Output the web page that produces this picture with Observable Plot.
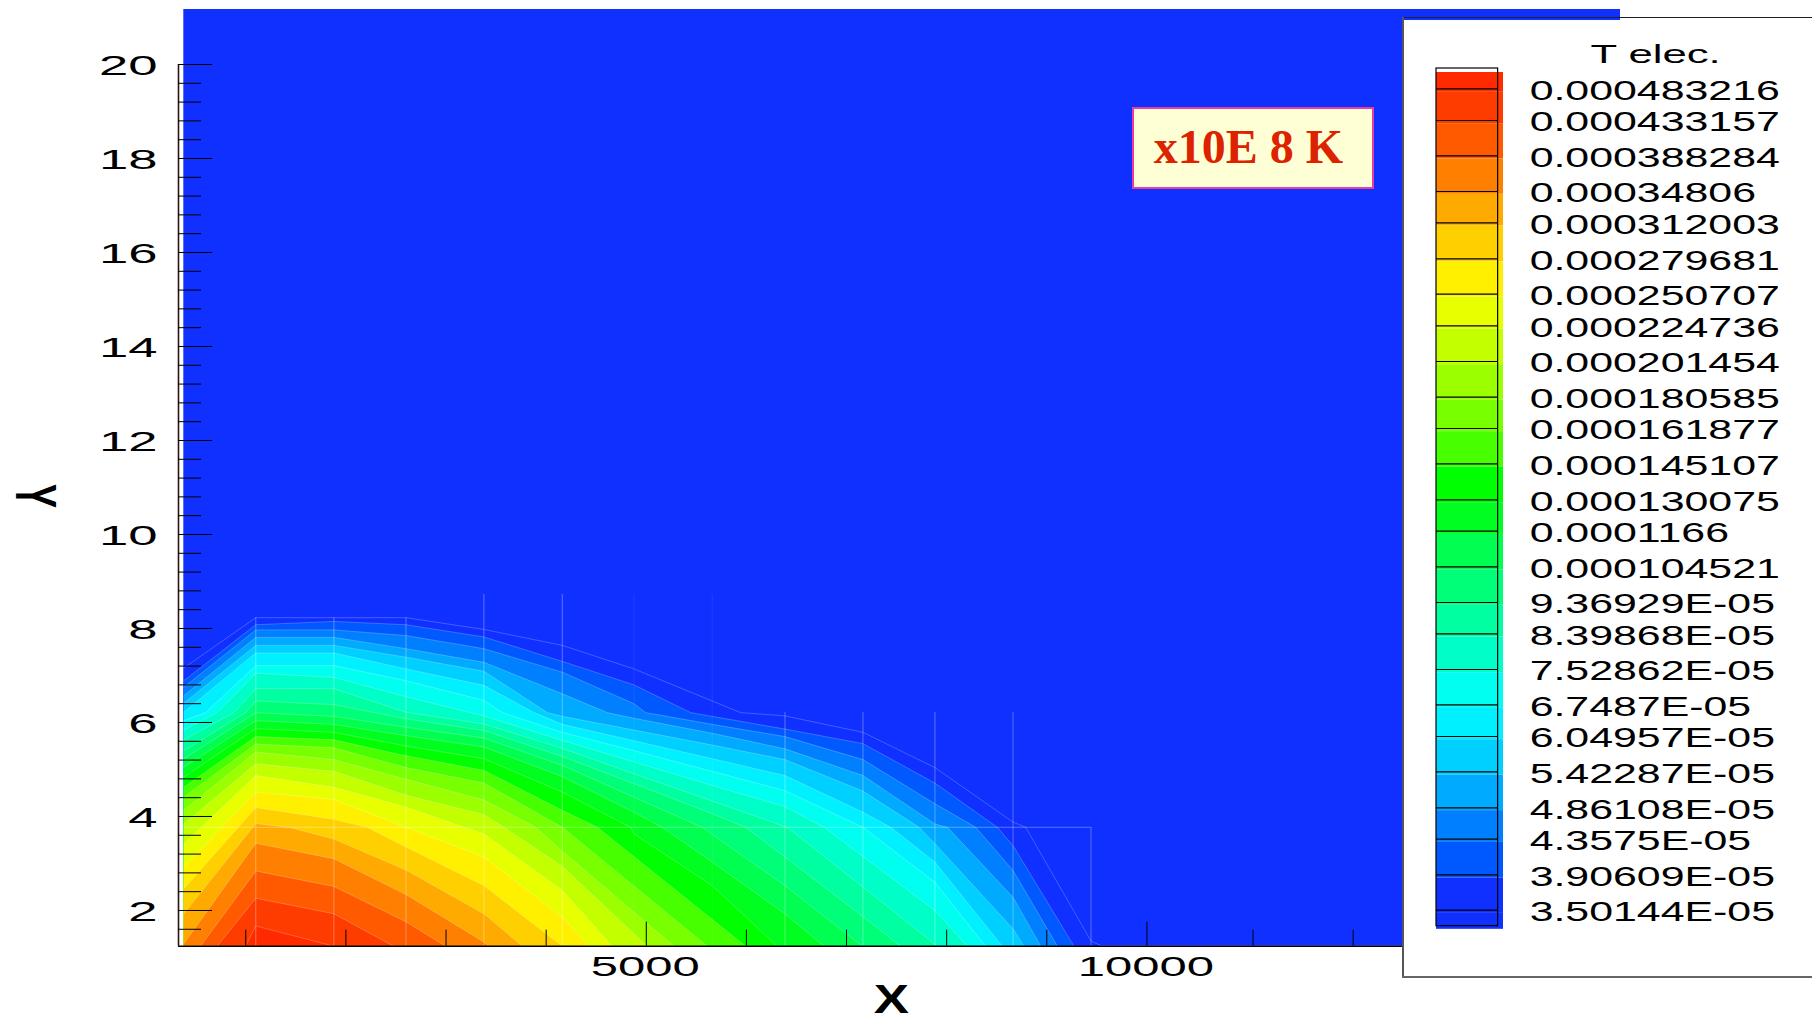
<!DOCTYPE html>
<html>
<head>
<meta charset="utf-8">
<script src="https://cdn.jsdelivr.net/npm/d3@7"></script>
<script src="https://cdn.jsdelivr.net/npm/@observablehq/plot@0.6"></script>
<style>
html,body{margin:0;padding:0;background:#fff;}
#stage{position:relative;width:1812px;height:1022px;overflow:hidden;font-family:"Liberation Sans",sans-serif;}
#stage>svg,#stage>figure{position:absolute;left:0;top:0;margin:0;}
#panel{position:absolute;left:1403px;top:20px;width:409px;height:957px;background:#fff;}
#panel svg{position:absolute;left:0;top:-3px;}
#panelTop{position:absolute;left:1402px;top:17px;width:410px;height:1px;background:#222;}
#panelLeft{position:absolute;left:1402px;top:17px;width:2px;height:960px;background:#555;}
#panelBottom{position:absolute;left:1402px;top:976px;width:410px;height:2px;background:#666;}
#note{position:absolute;left:1132px;top:107px;width:238px;height:78px;background:#ffffd6;border:2px solid #e83ca0;
 font:bold 48px "Liberation Serif",serif;color:#dd2200;text-align:center;line-height:76px;white-space:pre;text-indent:-9px;}
.axisTitle{position:absolute;font:bold 40px "Liberation Sans",sans-serif;color:#000;line-height:40px;transform-origin:center;}
#xTitle{left:878px;top:979px;transform:scaleX(1.32);}
#yTitle{left:23px;top:476px;transform:rotate(90deg) scaleX(.9) scaleY(1.42);}
</style>
</head>
<body>
<div id="stage"></div>
<script>
// contour levels, innermost (L1) to outermost (L25): [x, y] vertices
const L1=[[997,1.24],[1100,1.67],[1880,1.24]];
const L2=[[714,1.24],[1100,2.26],[1880,1.93],[2479,1.24]];
const L3=[[548,1.24],[1100,2.84],[1880,2.51],[2600,1.76],[2995,1.24]];
const L4=[[381,1.29],[1100,3.43],[1880,3.10],[2600,2.34],[3378,1.33],[3428,1.24]];
const L5=[[381,1.93],[1100,3.85],[1447,3.76],[1880,3.52],[2600,2.86],[3378,1.93],[3761,1.24]];
const L6=[[381,2.46],[1100,4.19],[1880,3.94],[2213,3.77],[2600,3.35],[3378,2.53],[4161,1.24]];
const L7=[[381,2.92],[1100,4.52],[1880,4.36],[2600,3.77],[3378,3.14],[4161,1.86],[4427,1.24]];
const L8=[[381,3.42],[1100,4.87],[1880,4.62],[2600,4.20],[3178,3.77],[3378,3.63],[4161,2.43],[4660,1.24]];
const L9=[[381,3.84],[1100,5.12],[1880,4.96],[2600,4.45],[3378,4.04],[3578,3.77],[4161,2.94],[5010,1.24]];
const L10=[[381,4.13],[1100,5.37],[1880,5.21],[2600,4.79],[3378,4.35],[3894,3.77],[4161,3.26],[5276,1.24]];
const L11=[[381,4.41],[1100,5.54],[1880,5.46],[2600,5.04],[3378,4.71],[4161,3.77],[5609,1.24]];
const L12=[[381,4.62],[1100,5.70],[1880,5.63],[2600,5.29],[3378,4.98],[4161,4.13],[4510,3.77],[5992,1.24]];
const L13=[[381,4.84],[1100,5.87],[1880,5.79],[2600,5.50],[3378,5.23],[4161,4.52],[4843,3.77],[4877,3.63],[5659,2.53],[6308,1.24]];
const L14=[[381,5.05],[1100,6.04],[1880,5.96],[2600,5.72],[3378,5.48],[4161,4.85],[4877,4.09],[5160,3.77],[5659,3.03],[6385,1.93],[6775,1.24]];
const L15=[[381,5.23],[1100,6.21],[1880,6.13],[2600,5.90],[3378,5.67],[4161,5.09],[4877,4.41],[5559,3.77],[6385,2.53],[7158,1.24]];
const L16=[[381,5.40],[997,6.21],[1100,6.46],[1880,6.38],[2600,6.08],[3378,5.83],[4161,5.28],[4877,4.70],[5659,4.06],[5992,3.77],[6385,3.14],[7164,1.87],[7540,1.24]];
const L17=[[381,5.63],[880,6.21],[1100,6.72],[1880,6.72],[2600,6.22],[3378,5.97],[4161,5.45],[4877,4.91],[5659,4.33],[6408,3.77],[7164,2.50],[7907,1.24]];
const L18=[[381,5.84],[714,6.21],[1100,7.05],[1880,6.96],[2600,6.55],[3378,6.14],[4161,5.62],[4877,5.16],[5659,4.66],[6385,4.21],[6775,3.77],[7164,3.15],[7883,2.00],[8207,1.24]];
const L19=[[381,6.04],[597,6.21],[1100,7.21],[1880,7.21],[2600,6.89],[3378,6.47],[3561,6.21],[4161,5.79],[4877,5.40],[5659,4.96],[6385,4.55],[7164,3.77],[7883,2.60],[8390,1.24]];
const L20=[[381,6.22],[1100,7.48],[1880,7.48],[2600,7.14],[3378,6.79],[3878,6.21],[4161,5.96],[4877,5.61],[5659,5.23],[6385,4.87],[7164,4.09],[7441,3.77],[7883,3.03],[8556,1.24]];
const L21=[[381,6.41],[1100,7.64],[1880,7.64],[2600,7.39],[3378,7.09],[4011,6.21],[4161,6.13],[4877,5.84],[5659,5.52],[6385,5.21],[7164,4.54],[7724,3.77],[7883,3.42],[8663,1.61],[8773,1.24]];
const L22=[[381,6.57],[1100,7.81],[1880,7.81],[2600,7.57],[3378,7.28],[4161,6.61],[4610,6.21],[4877,6.09],[5659,5.77],[6385,5.44],[7164,4.87],[7883,3.84],[8007,3.77],[8663,2.28],[8939,1.24]];
const L23=[[381,6.75],[1100,7.97],[1880,7.97],[2600,7.85],[3378,7.57],[4161,7.07],[4877,6.40],[4993,6.21],[5659,5.96],[6385,5.70],[7164,5.21],[7883,4.27],[8290,3.77],[8663,2.85],[9106,1.24]];
const L24=[[381,6.89],[1100,8.08],[1880,8.15],[2600,8.08],[3378,7.82],[4161,7.30],[4877,6.80],[5443,6.21],[6385,5.86],[7164,5.55],[7883,4.71],[8506,3.77],[8663,3.38],[9272,1.24]];
const L25=[[381,7.16],[1100,8.23],[1880,8.23],[2600,8.23],[3378,7.98],[4161,7.64],[4877,7.14],[5942,6.21],[6385,6.14],[7164,5.79],[7883,5.04],[8663,3.88],[8789,3.77],[9442,1.35],[9555,1.24]];

// band colours, hottest first; bandColors[k] fills the inside of L(k+1), the last one is the background
const bandColors=["#ff2a00","#ff3c00","#ff5a00","#ff8000","#ffaa00","#ffd000","#fff000","#e8ff00","#c4ff00","#9cff00","#78ff00","#48ff00","#00ff00","#00ff20","#00ff50","#00ff78","#00ffa0","#00ffc8","#00fff0","#00f0ff","#00d0ff","#00aaff","#0080ff","#0058ff","#1030ff","#1030ff"];
const legendLabels=["0.000483216","0.000433157","0.000388284","0.00034806","0.000312003","0.000279681","0.000250707","0.000224736","0.000201454","0.000180585","0.000161877","0.000145107","0.000130075","0.0001166","0.000104521","9.36929E-05","8.39868E-05","7.52862E-05","6.7487E-05","6.04957E-05","5.42287E-05","4.86108E-05","4.3575E-05","3.90609E-05","3.50144E-05"];

const xMajor=[5000,10000];
const xMinor=[1000,2000,3000,4000,6000,7000,8000,9000,11060,12060];
const yMajor=[2,4,6,8,10,12,14,16,18,20];
const yMinor=[1.6,2.4,2.8,3.2,3.6,4.4,4.8,5.2,5.6,6.4,6.8,7.2,7.6,8.4,8.8,9.2,9.6,10.4,10.8,11.2,11.6,12.4,12.8,13.2,13.6,14.4,14.8,15.2,15.6,16.4,16.8,17.2,17.6,18.4,18.8,19.2,19.6];

// mesh lines seen under the contours: column x, top y, visibility
const meshStrong=[{x:1100,top:8.23},{x:1880,top:8.23},{x:2600,top:8.23},{x:3378,top:8.72},{x:4161,top:8.72},{x:6385,top:6.21},{x:7164,top:6.21},{x:7883,top:6.21},{x:8663,top:6.21},{x:9442,top:3.77}];
const meshFaint=[{x:4877,top:8.72},{x:5659,top:8.72}];
const meshRowY=3.77;

const xDomain=[328,14730], yDomain=[1.24,21.17];
const levels=[L25,L24,L23,L22,L21,L20,L19,L18,L17,L16,L15,L14,L13,L12,L11,L10,L9,L8,L7,L6,L5,L4,L3,L2,L1];
const regions=levels.flatMap((pts,i)=>{
  const color=bandColors[24-i];
  return [...pts,[xDomain[0]+53,yDomain[0]]].map(([x,y])=>({level:i,x,y,color}));
});

const blank=()=>"";
const main=Plot.plot({
  width:1812,height:1022,
  marginLeft:178,marginRight:192,marginTop:9,marginBottom:76.3,
  x:{domain:xDomain,label:null},
  y:{domain:yDomain,label:null},
  color:{type:"identity"},
  style:{background:"transparent",fontFamily:"Liberation Sans",overflow:"visible"},
  marks:[
    Plot.rect([0],{x1:xDomain[0]+53,x2:xDomain[1],y1:yDomain[0],y2:yDomain[1],fill:bandColors[25]}),
    Plot.line(regions,{x:"x",y:"y",z:"level",fill:"color",stroke:"#fff",strokeOpacity:0.32,strokeWidth:0.7,curve:"linear"}),
    Plot.ruleX(meshStrong,{x:"x",y1:yDomain[0],y2:"top",stroke:"#fff",strokeOpacity:0.32,strokeWidth:1}),
    Plot.ruleX(meshFaint,{x:"x",y1:yDomain[0],y2:"top",stroke:"#fff",strokeOpacity:0.07,strokeWidth:1}),
    Plot.ruleY([meshRowY],{x1:xDomain[0]+53,x2:9442,stroke:"#fff",strokeOpacity:0.32,strokeWidth:1}),
    Plot.ruleY([yDomain[0]],{x1:xDomain[0],x2:xDomain[1],stroke:"#000",strokeWidth:1.6}),
    Plot.ruleX([xDomain[0]],{y1:yDomain[0],y2:20,stroke:"#2a1414",strokeWidth:1.6}),
    Plot.axisY(yMinor,{anchor:"left",tickSize:-23,tickFormat:blank,label:null,stroke:"#000"}),
    Plot.axisY(yMajor,{anchor:"left",tickSize:-34,tickPadding:55,fontSize:28,label:null,stroke:"#000"}),
    Plot.axisX(xMinor,{anchor:"bottom",tickSize:-16,tickFormat:blank,label:null,stroke:"#000"}),
    Plot.axisX(xMajor,{anchor:"bottom",tickSize:-24,tickPadding:32,fontSize:28,tickFormat:d=>String(d),label:null,stroke:"#000"})
  ]
});

const idx=d3.range(legendLabels.length);
// the colour bar's rows are not quite evenly spaced in the reference: a piecewise scale from row number to pixel
const rowY=d3.scaleLinear(idx,[71.3,103,138.3,174,205.3,241.3,276.7,308.3,344,379.7,411,446.3,482.3,513.7,549.3,585,616.3,652,687.3,719,754.3,790.3,821.7,857.3,892.7]);
const legendBands=bandColors.map((color,k)=>({
  color,
  y1:k===0?-0.514:k-1+0.09,
  y2:k===25?24.54:k+0.09
}));
const legend=Plot.plot({
  width:409,height:960,
  margin:0,
  x:{domain:[0,1],range:[33,100],axis:null},
  y:{type:"identity",axis:null},
  color:{type:"identity"},
  style:{background:"transparent",fontFamily:"Liberation Sans",overflow:"visible"},
  marks:[
    Plot.rect(legendBands,{x1:0,x2:1,y1:d=>rowY(d.y1),y2:d=>rowY(d.y2),fill:"color"}),
    Plot.ruleY(idx,{y:d=>rowY(d),x1:0,x2:0.92,stroke:"#000",strokeWidth:1.2}),
    Plot.rect([0],{x1:0,x2:0.92,y1:()=>rowY(-0.64),y2:()=>rowY(24.45),fill:"none",stroke:"#000",strokeWidth:1.2}),
    Plot.text(legendLabels,{x:1.39,y:(d,i)=>rowY(i),text:d=>d,textAnchor:"start",fontSize:28,dy:2,fill:"#000"}),
    Plot.text(["T elec."],{x:3.27,y:()=>rowY(-1.08),text:d=>d,textAnchor:"middle",fontSize:26,fill:"#000"})
  ]
});

const stage=document.getElementById("stage");
stage.appendChild(main);
const panel=document.createElement("div");panel.id="panel";panel.appendChild(legend);stage.appendChild(panel);
["panelTop","panelLeft","panelBottom"].forEach(id=>{const d=document.createElement("div");d.id=id;stage.appendChild(d);});
const note=document.createElement("div");note.id="note";note.textContent="x10E 8 K";stage.appendChild(note);
const xT=document.createElement("div");xT.id="xTitle";xT.className="axisTitle";xT.textContent="X";stage.appendChild(xT);
const yT=document.createElement("div");yT.id="yTitle";yT.className="axisTitle";yT.textContent="Y";stage.appendChild(yT);

// the reference's text is stretched sideways
function stretch(nodes,f){nodes.forEach(t=>{const n=t.getComputedTextLength();if(n>0){t.setAttribute("textLength",n*f);t.setAttribute("lengthAdjust","spacingAndGlyphs");}});}
function nudge(sel,dx,dy){main.querySelectorAll(sel).forEach(g=>g.setAttribute("transform",(g.getAttribute("transform")||"")+` translate(${dx},${dy})`));}
stretch(main.querySelectorAll('g[aria-label="y-axis tick label"] text'),1.88);
stretch(main.querySelectorAll('g[aria-label="x-axis tick label"] text'),1.75);
nudge('g[aria-label="y-axis tick label"]',0,2);
nudge('g[aria-label="x-axis tick label"]',-1,2);
const legendTexts=[...legend.querySelectorAll('g[aria-label="text"] text')];
stretch(legendTexts.slice(0,-1),1.53);
stretch(legendTexts.slice(-1),1.68);
</script>
</body>
</html>
